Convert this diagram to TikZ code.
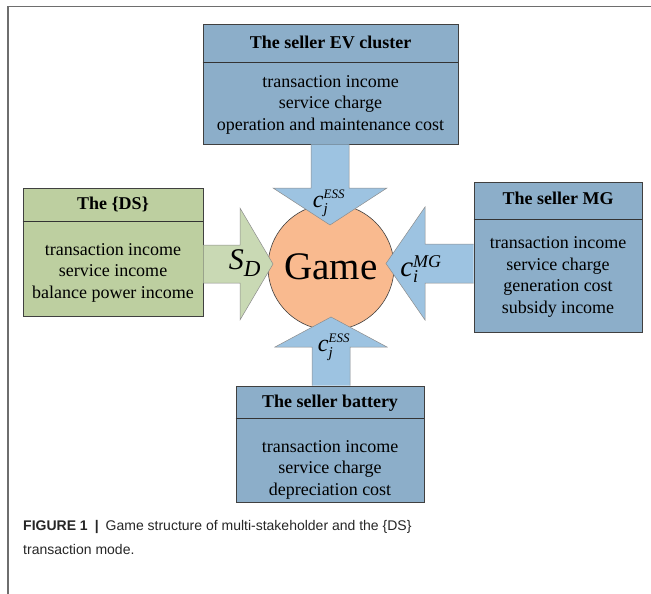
\documentclass[tikz,border=0pt]{standalone}
\usepackage{fontspec}
\setmainfont{Liberation Serif}
\setsansfont{Liberation Sans}
\definecolor{boxblue}{HTML}{8CAEC9}
\definecolor{arrowblue}{HTML}{9DC3E1}
\definecolor{boxgreen}{HTML}{BDCFA0}
\definecolor{arrowgreen}{HTML}{C9D9B4}
\definecolor{gamefill}{HTML}{F9BA8F}
\definecolor{edgegray}{HTML}{404040}
\definecolor{framegray}{HTML}{6E6E6E}
\definecolor{captext}{HTML}{262626}
\begin{document}
\begin{tikzpicture}[x=1pt,y=-1pt,
  boxpart/.style={draw=edgegray, line width=0.8pt, inner sep=0pt, rectangle},
  hdrtext/.style={inner sep=0pt, font=\fontsize{18}{21.5}\selectfont\bfseries, align=center},
  bodytext/.style={inner sep=0pt, font=\fontsize{18}{21.5}\selectfont, align=center},
  divider/.style={draw=black!80, line width=1.5pt},
  blockarrow/.style={draw=black!45, line width=0.5pt},
  lbl/.style={inner sep=0pt}
]
\useasboundingbox (0,0) rectangle (651,594);
% frame
\draw[framegray, line width=1.4pt] (8,594) coordinate (fbl) -- (8,6.5) coordinate (ftl) -- (651,6.5) coordinate (ftr);

% Game circle
\node[circle, draw=edgegray, line width=0.6pt, fill=gamefill, minimum size=126pt, inner sep=0pt] (game) at (331,267) {};
\node[inner sep=0pt, font=\fontsize{39}{39}\selectfont] (gametext) at (game.center) {Game};

% ---- top box: seller EV cluster
\node[boxpart, fill=boxblue, minimum width=255pt, minimum height=38pt] (tbh) at (330.5,43) {};
\node[boxpart, fill=boxblue, minimum width=255pt, minimum height=82pt] (tbb) at (330.5,103) {};
\draw[divider] (tbh.south west) -- (tbh.south east);
\node[hdrtext] (tbht) at (330.5,42) {The seller EV cluster};
\node[bodytext] (tbbt) at (330.5,104.5) {transaction income\\service charge\\operation and maintenance cost};

% ---- left box: DS
\node[boxpart, fill=boxgreen, minimum width=180pt, minimum height=33pt] (lbh) at (113,204.5) {};
\node[boxpart, fill=boxgreen, minimum width=180pt, minimum height=95pt] (lbb) at (113,268.5) {};
\draw[divider] (lbh.south west) -- (lbh.south east);
\node[hdrtext] (lbht) at (113,204) {The \{DS\}};
\node[bodytext] (lbbt) at (113,272.5) {transaction income\\service income\\balance power income};

% ---- right box: seller MG
\node[boxpart, fill=boxblue, minimum width=168pt, minimum height=37pt] (rbh) at (558,200.5) {};
\node[boxpart, fill=boxblue, minimum width=168pt, minimum height=113pt] (rbb) at (558,275.5) {};
\draw[divider] (rbh.south west) -- (rbh.south east);
\node[hdrtext] (rbht) at (558,198) {The seller MG};
\node[bodytext] (rbbt) at (558,277) {transaction income\\service charge\\generation cost\\subsidy income};

% ---- bottom box: seller battery
\node[boxpart, fill=boxblue, minimum width=188pt, minimum height=32pt] (bbh) at (330,402) {};
\node[boxpart, fill=boxblue, minimum width=188pt, minimum height=84pt] (bbb) at (330,460) {};
\draw[divider] (bbh.south west) -- (bbh.south east);
\node[hdrtext] (bbht) at (330,403) {The seller battery};
\node[bodytext] (bbbt) at (330,469.5) {transaction income\\service charge\\depreciation cost};

% ---- block arrows
% top (down)
\draw[blockarrow, fill=arrowblue] (311,144.4) -- (311,188) -- (273,188) -- (330,225) -- (387,188) -- (349,188) -- (349,144.4);
% left (right-pointing)
\draw[blockarrow, fill=arrowgreen] (203.4,245) -- (240,245) -- (240,208) -- (273,264) -- (240,320) -- (240,283) -- (203.4,283);
% right (left-pointing)
\draw[blockarrow, fill=arrowblue] (473.6,244) -- (425,244) -- (425,207) -- (386,263.5) -- (425,320) -- (425,283) -- (473.6,283);
% bottom (up)
\draw[blockarrow, fill=arrowblue] (312,385.6) -- (312,347) -- (275,347) -- (331,317) -- (387,347) -- (350,347) -- (350,385.6);

% ---- arrow labels
\node[lbl, font=\fontsize{24}{24}\selectfont] (ltop) at (329,203)
  {$\mbox{\itshape c}^{\mbox{\fontsize{13}{13}\selectfont\itshape ESS}}_{\mbox{\fontsize{15}{15}\selectfont\itshape j}}$};
\node[lbl, font=\fontsize{24}{24}\selectfont] (lbot) at (334,347)
  {$\mbox{\itshape c}^{\mbox{\fontsize{13}{13}\selectfont\itshape ESS}}_{\mbox{\fontsize{15}{15}\selectfont\itshape j}}$};
\node[lbl, font=\fontsize{30}{30}\selectfont] (lleft) at (245,263)
  {$\mbox{\itshape S}_{\mbox{\fontsize{23}{23}\selectfont\itshape D}}$};
\node[lbl, font=\fontsize{29}{29}\selectfont] (lright) at (421,269)
  {$\mbox{\itshape c}^{\mbox{\fontsize{18}{18}\selectfont\itshape MG}}_{\mbox{\fontsize{18}{18}\selectfont\itshape i}}$};

% ---- caption
\node[anchor=base west, inner sep=0pt, text=captext, font=\sffamily\fontsize{14}{24}\selectfont, align=left] (cap) at (23,554)
  {\textbf{FIGURE 1}\hspace{7pt}\textbf{|}\hspace{7pt}Game structure of multi-stakeholder and the \{DS\}\\transaction mode.};
\end{tikzpicture}
\end{document}
